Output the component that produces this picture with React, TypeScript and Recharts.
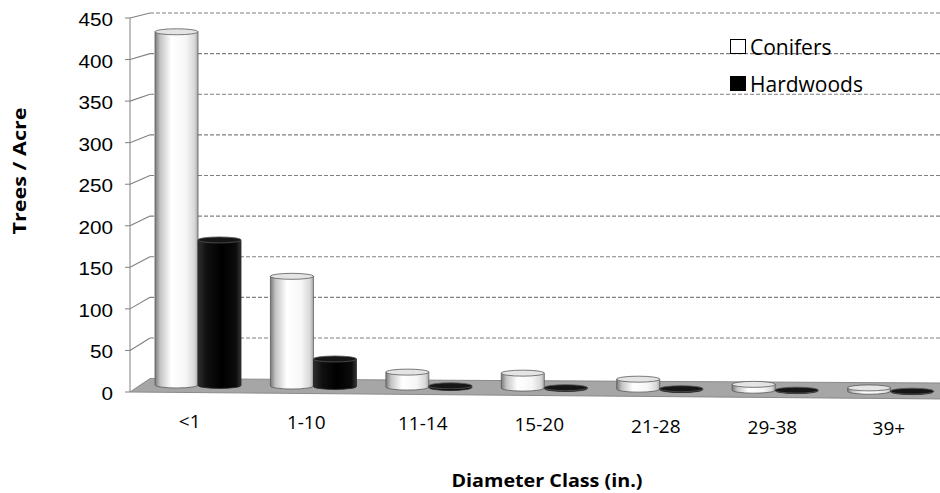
import React from 'react';
import { BarChart, Bar, XAxis, YAxis, CartesianGrid, Legend } from 'recharts';

const diameterClasses = ['<1', '1-10', '11-14', '15-20', '21-28', '29-38', '39+'];
const conifers = [425, 132, 18, 18, 12, 7, 4];
const hardwoods = [175, 33, 2, 1, 1, 0.5, 0.5];
const yTicks = [0, 50, 100, 150, 200, 250, 300, 350, 400, 450];

const data = diameterClasses.map((name, i) => ({
  name,
  Conifers: conifers[i],
  Hardwoods: hardwoods[i],
}));

// fake 3D: back wall sits a bit higher and to the right of the front axis,
// and the floor drops slightly towards the right
const WALL_DEPTH = 20;
const backY = (fy: number) => 13 + (fy - 18) * 0.9775;
const floorDrop = (x: number) => (x - 177) * 0.009;

const GridLine = (props: any) => {
  const { x1, x2, y1, index } = props;
  const by = backY(y1);
  const bottom = props.y != null && props.height != null ? props.y + props.height : 392;
  if (Math.abs(y1 - bottom) < 0.5) {
    // floor of the plot
    const pts = [
      [x1, y1],
      [x1 + WALL_DEPTH, by],
      [x2, by + (x2 - x1 - WALL_DEPTH) * 0.0056],
      [x2, y1 + (x2 - x1) * 0.0086],
    ]
      .map((p) => p.join(','))
      .join(' ');
    return <polygon key={`floor-${index}`} points={pts} fill="#a6a6a6" stroke="#8a8a8a" strokeWidth={1} />;
  }
  return (
    <g key={`grid-${index}`}>
      <line x1={x1} y1={y1} x2={x1 + WALL_DEPTH} y2={by} stroke="#808080" strokeWidth={1.1} />
      <line x1={x1 + WALL_DEPTH} y1={by} x2={x2} y2={by} stroke="#808080" strokeWidth={1.1} strokeDasharray="4 2" />
    </g>
  );
};

const Cylinder = (props: any) => {
  const { x, y, width, height, dark } = props;
  const rx = width / 2;
  const ry = 3;
  const shift = -7 + floorDrop(x + rx);
  const top = y + shift;
  const base = y + height + shift;
  const grad = dark ? 'cylDark' : 'cylLight';
  const body = `M${x},${top} L${x},${base} A${rx},${ry} 0 0 0 ${x + width},${base} L${x + width},${top} Z`;
  return (
    <g>
      <defs>
        <linearGradient id="cylLight" x1="0" y1="0" x2="1" y2="0">
          <stop offset="0%" stopColor="#7a7a7a" />
          <stop offset="12%" stopColor="#c4c4c4" />
          <stop offset="38%" stopColor="#ffffff" />
          <stop offset="72%" stopColor="#f6f6f6" />
          <stop offset="92%" stopColor="#d8d8d8" />
          <stop offset="100%" stopColor="#a8a8a8" />
        </linearGradient>
        <linearGradient id="cylDark" x1="0" y1="0" x2="1" y2="0">
          <stop offset="0%" stopColor="#2e2e2e" />
          <stop offset="20%" stopColor="#101010" />
          <stop offset="55%" stopColor="#000000" />
          <stop offset="88%" stopColor="#0b0b0b" />
          <stop offset="100%" stopColor="#333333" />
        </linearGradient>
      </defs>
      <path d={body} fill={`url(#${grad})`} stroke={dark ? '#222' : '#5a5a5a'} strokeWidth={0.8} />
      <ellipse
        cx={x + rx}
        cy={top}
        rx={rx}
        ry={ry}
        fill={dark ? '#161616' : '#e4e4e4'}
        stroke={dark ? '#555' : '#5a5a5a'}
        strokeWidth={0.8}
      />
    </g>
  );
};

const YTick = (props: any) => {
  const { x, y, payload } = props;
  return (
    <text
      transform={`translate(${x},${y + 8}) scale(1.15,1)`}
      textAnchor="end"
      fontFamily="'Liberation Sans', Arial, sans-serif"
      fontSize={18}
      fill="#000"
    >
      {payload.value}
    </text>
  );
};

const XTick = (props: any) => {
  const { x, y, payload, index } = props;
  return (
    <text
      x={x - 8 + index * 1.1}
      y={y + 35.5 + index * 1.33}
      textAnchor="middle"
      fontFamily="'Open Sans', sans-serif"
      fontSize={19}
      fill="#000"
    >
      {payload.value}
    </text>
  );
};

const YTitle = (props: any) => {
  const { viewBox } = props;
  const x = viewBox.x + 26;
  const y = viewBox.y + 153;
  return (
    <text
      transform={`translate(${x},${y}) rotate(-90)`}
      textAnchor="middle"
      fontFamily="'Open Sans', sans-serif"
      fontWeight="bold"
      fontSize={18}
      textLength={127}
      lengthAdjust="spacingAndGlyphs"
      fill="#000"
    >
      Trees / Acre
    </text>
  );
};

const XTitle = (props: any) => {
  const { viewBox } = props;
  return (
    <text
      x={viewBox.x + 417}
      y={viewBox.y + 95}
      textAnchor="middle"
      fontFamily="'Open Sans', sans-serif"
      fontWeight="bold"
      fontSize={18}
      textLength={191}
      lengthAdjust="spacingAndGlyphs"
      fill="#000"
    >
      Diameter Class (in.)
    </text>
  );
};

const LegendBox = ({ payload }: any) => (
  <div style={{ fontFamily: "'Open Sans', sans-serif", fontSize: 21, color: '#000' }}>
    {(payload || []).map((p: any) => (
      <div key={p.value} style={{ display: 'flex', alignItems: 'center', height: 37 }}>
        <span
          style={{
            display: 'inline-block',
            width: 14,
            height: 13,
            border: '1.5px solid #000',
            background: p.color,
            marginRight: 4,
          }}
        />
        {p.value}
      </div>
    ))}
  </div>
);

export default function App() {
  return (
    <div style={{ position: 'absolute', left: 0, top: 0, width: 940, height: 493, overflow: 'hidden', background: '#fff' }}>
      <BarChart
        width={948}
        height={493}
        data={data}
        margin={{ top: 18, right: 0, bottom: 0, left: 0 }}
        barCategoryGap={15}
        barGap={0}
      >
        <CartesianGrid vertical={false} horizontal={GridLine} />
        <XAxis
          dataKey="name"
          padding={{ left: 10, right: 0 }}
          axisLine={false}
          tickLine={false}
          tickSize={0}
          tickMargin={0}
          interval={0}
          height={101}
          tick={XTick}
          label={<XTitle />}
        />
        <YAxis
          width={130}
          domain={[0, 450]}
          ticks={yTicks}
          interval={0}
          tickSize={5}
          tickMargin={12}
          axisLine={{ stroke: '#808080' }}
          tickLine={{ stroke: '#808080' }}
          tick={YTick}
          label={<YTitle />}
        />
        <Legend
          layout="vertical"
          align="center"
          verticalAlign="middle"
          wrapperStyle={{ left: 730, top: 28, width: 'auto' }}
          content={LegendBox}
        />
        <Bar
          dataKey="Conifers"
          fill="#ffffff"
          isAnimationActive={false}
          shape={(p: any) => <Cylinder {...p} dark={false} />}
        />
        <Bar
          dataKey="Hardwoods"
          fill="#000000"
          isAnimationActive={false}
          shape={(p: any) => <Cylinder {...p} dark={true} />}
        />
      </BarChart>
    </div>
  );
}
